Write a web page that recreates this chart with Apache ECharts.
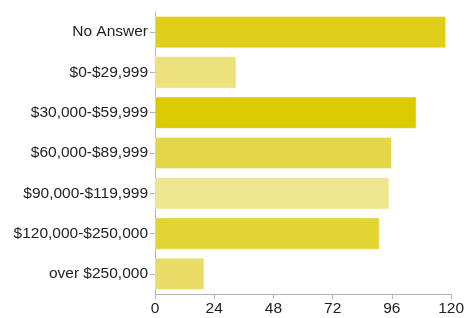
<!DOCTYPE html>
<html>
<head>
<meta charset="utf-8">
<script src="https://cdn.jsdelivr.net/npm/echarts@6/dist/echarts.min.js"></script>
<style>
    html, body { margin: 0; padding: 0; background: #fff; }
    #chart { width: 467px; height: 318px; }
</style>
</head>
<body>
<div id="chart"></div>
<script>
var categories = ['No Answer', '$0-$29,999', '$30,000-$59,999', '$60,000-$89,999',
    '$90,000-$119,999', '$120,000-$250,000', 'over $250,000'];
var counts = [118, 33, 106, 96, 95, 91, 20];
var barColors = ['#dfcf1b', '#ece17a', '#dbcb00', '#e3d647', '#efe690', '#e2d433', '#e8dc66'];
var xTicks = { min: 0, max: 120, interval: 24 };

var chart = {
    render: function () {
        var myChart = echarts.init(document.getElementById('chart'));

        var data = counts.map(function (v, i) {
            return { value: v, itemStyle: { color: barColors[i] } };
        });

        var option = {
            backgroundColor: '#fff',
            animation: false,
            grid: { left: 155, right: 14, top: 12, bottom: 24 },
            xAxis: {
                type: 'value',
                min: xTicks.min,
                max: xTicks.max,
                interval: xTicks.interval,
                splitLine: { show: false },
                axisLine: { show: true, lineStyle: { color: '#b4b4b4' } },
                axisTick: { show: true, length: 5, lineStyle: { color: '#b4b4b4' } },
                axisLabel: {
                    color: '#222',
                    fontFamily: 'Liberation Sans',
                    fontSize: 15.5,
                    margin: 7
                }
            },
            yAxis: {
                type: 'category',
                inverse: true,
                data: categories,
                axisLine: { show: true, lineStyle: { color: '#b4b4b4' } },
                axisTick: { show: true, alignWithLabel: true, length: 5, lineStyle: { color: '#b4b4b4' } },
                axisLabel: {
                    color: '#222',
                    fontFamily: 'Liberation Sans',
                    fontSize: 15.5,
                    margin: 7
                }
            },
            series: [
                {
                    type: 'bar',
                    data: data,
                    barCategoryGap: '20%',
                    itemStyle: {
                        borderColor: 'rgba(255,255,255,0.35)',
                        borderWidth: 1
                    }
                }
            ]
        };

        myChart.setOption(option);
    }
};

chart.render();
</script>
</body>
</html>
